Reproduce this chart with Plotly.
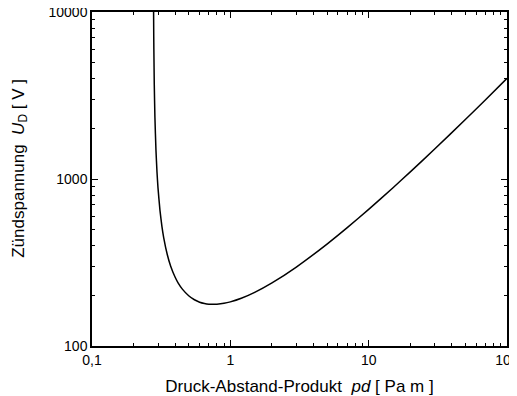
import plotly.graph_objects as go

# Data (Paschen curve)
pd_vals = [0.2785, 0.2795, 0.28, 0.282, 0.285, 0.29, 0.295, 0.30, 0.31, 0.32, 0.33, 0.35,
           0.37, 0.4, 0.42, 0.45, 0.5, 0.55, 0.6, 0.65, 0.7, 0.75, 0.8, 0.9, 1.0, 1.2,
           1.5, 2, 3, 5, 7, 10, 15, 20, 30, 50, 70, 100]
u_vals = [11600, 7130, 5990, 3670, 2340, 1484, 1101, 885, 648.5, 522, 444.2, 353,
          301.4, 257, 238.0, 219, 200, 189.2, 183, 179.8, 178.1, 177.7, 178.0, 180.2,
          183.8, 193.1, 209.5, 238.7, 297.1, 407.8, 511.5, 658.0, 886.8, 1102.9,
          1511.1, 2271, 2986, 4007]

x_tickvals = [0.1, 1, 10, 100]
x_ticktext = ["0,1", "1", "10", "100"]
y_tickvals = [100, 1000, 10000]
y_ticktext = ["100", "1000", "10000"]

x_minor = [m * 10 ** k for k in (-1, 0, 1) for m in range(2, 10)]
y_minor = [m * 10 ** k for k in (2, 3) for m in range(2, 10)]

fig = go.Figure()
fig.add_trace(go.Scatter(x=pd_vals, y=u_vals, mode="lines",
                         line=dict(color="black", width=1.5, shape="spline", smoothing=0.5),
                         cliponaxis=True, showlegend=False))

font = dict(family="Liberation Sans, Arial, sans-serif", color="black")
fig.update_layout(
    width=509, height=388,
    margin=dict(l=84, r=10, t=4, b=50, autoexpand=False),
    paper_bgcolor="white", plot_bgcolor="white",
    font=dict(size=14, **font),
    showlegend=False,
)
fig.update_xaxes(
    type="log", range=[-1, 2], automargin=False, ticklabeloverflow="allow",
    tickmode="array", tickvals=x_tickvals, ticktext=x_ticktext,
    ticks="inside", ticklen=6, tickwidth=1.2, tickcolor="black",
    minor=dict(tickmode="array", tickvals=x_minor, ticks="inside", ticklen=3,
               tickwidth=1, tickcolor="black", showgrid=False),
    showline=True, linecolor="black", linewidth=1.5, mirror="allticks",
    showgrid=False, zeroline=False,
    tickfont=dict(size=14, **font),
    title=dict(text="Druck-Abstand-Produkt  <i>pd</i> [ Pa m ]",
               font=dict(size=17, **font), standoff=14),
)
fig.update_yaxes(
    type="log", range=[2, 4], automargin=False, ticklabeloverflow="allow",
    tickmode="array", tickvals=y_tickvals, ticktext=y_ticktext,
    ticks="inside", ticklen=6, tickwidth=1.2, tickcolor="black",
    minor=dict(tickmode="array", tickvals=y_minor, ticks="inside", ticklen=3,
               tickwidth=1, tickcolor="black", showgrid=False),
    showline=True, linecolor="black", linewidth=1.5, mirror="allticks",
    showgrid=False, zeroline=False,
    tickfont=dict(size=14, **font),
)
fig.add_annotation(
    text="Zündspannung  <i>U</i><sub>D</sub> [ V ]",
    xref="paper", yref="paper", x=-0.174, y=0.533,
    xanchor="center", yanchor="middle", textangle=-90, showarrow=False,
    borderpad=0,
    font=dict(size=17, **font),
)

fig.write_html("out.html")
